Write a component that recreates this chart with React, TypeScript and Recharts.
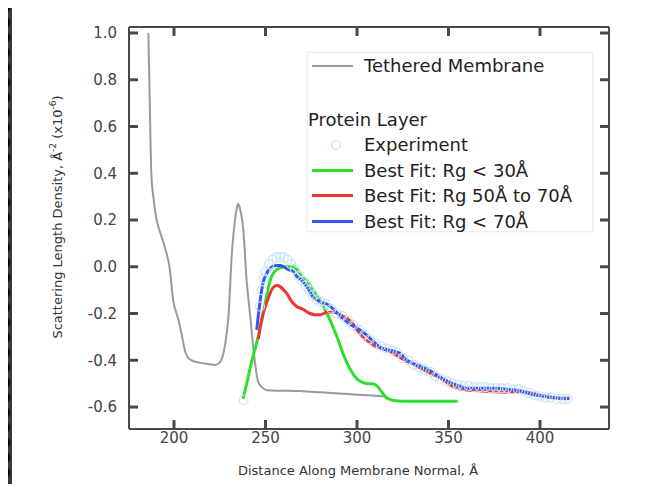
import React from "react";
import {
  ComposedChart,
  Line,
  XAxis,
  YAxis,
  ReferenceLine,
} from "recharts";

type Pt = { x: number; y: number };
const pts = (a: number[][]): Pt[] => a.map(([x, y]) => ({ x, y }));

const xTicks = [200, 250, 300, 350, 400];
const yTicks = [-0.6, -0.4, -0.2, 0.0, 0.2, 0.4, 0.6, 0.8, 1.0];

const membrane = pts([
  [186, 1.0], [186.5, 0.8], [187, 0.6], [187.6, 0.4], [189, 0.28], [190.5, 0.2],
  [192.3, 0.15], [194, 0.11], [195.5, 0.07], [197.5, 0.0], [199.6, -0.146],
  [202.2, -0.22], [204.2, -0.29], [206, -0.36], [207.7, -0.39], [210.4, -0.403],
  [214, -0.41], [218, -0.415], [222.4, -0.42], [224.2, -0.415], [226.5, -0.385],
  [228, -0.33], [229.7, -0.217], [231.7, 0.068], [233.3, 0.197], [234.3, 0.25],
  [235, 0.27], [236, 0.25], [237.9, 0.154], [239.7, -0.06], [241.5, -0.2],
  [243.3, -0.345], [245.9, -0.49], [248, -0.515], [250.8, -0.528], [256, -0.53],
  [262, -0.53], [270, -0.532], [280, -0.537], [290, -0.542], [300, -0.547],
  [306, -0.55], [316, -0.555],
]);

const experiment = pts([
  [238, -0.57], [247, -0.17], [248, -0.1], [249, -0.05], [250, -0.02], [252, 0.01],
  [254, 0.03], [256, 0.04], [258, 0.04], [260, 0.04], [262, 0.03], [264, 0.01],
  [266, -0.01], [268, -0.04], [270, -0.06], [272, -0.08], [274, -0.1], [276, -0.12],
  [278, -0.14], [280, -0.15], [283, -0.16], [286, -0.18], [289, -0.2], [292, -0.21],
  [295, -0.23], [298, -0.25], [301, -0.27], [304, -0.29], [307, -0.31], [310, -0.33],
  [313, -0.34], [316, -0.35], [319, -0.36], [322, -0.37], [325, -0.39], [328, -0.4],
  [331, -0.42], [334, -0.43], [337, -0.44], [340, -0.45], [343, -0.47], [346, -0.48],
  [349, -0.49], [352, -0.5], [355, -0.505], [358, -0.51], [361, -0.51], [364, -0.515],
  [367, -0.515], [370, -0.515], [373, -0.52], [376, -0.52], [379, -0.52], [382, -0.52],
  [385, -0.525], [388, -0.525], [391, -0.53], [394, -0.54], [397, -0.55], [400, -0.555],
  [403, -0.56], [406, -0.56], [409, -0.565], [412, -0.565], [415, -0.565],
]);

const fitRg30 = pts([
  [237.7, -0.565], [240, -0.49], [242, -0.42], [244, -0.36], [246, -0.3], [248, -0.23],
  [250, -0.15], [252.5, -0.06], [255, -0.02], [258, -0.005], [262, 0.0], [265, 0.0],
  [268, -0.02], [270, -0.04], [272.7, -0.06], [276, -0.1], [279.8, -0.145],
  [283.6, -0.2], [287, -0.26], [290, -0.32], [292.3, -0.37], [295, -0.42], [298, -0.46],
  [300, -0.48], [303, -0.495], [306, -0.5], [308.7, -0.5], [311, -0.51], [313, -0.53],
  [316, -0.56], [320, -0.572], [325, -0.575], [335, -0.575], [345, -0.575], [355, -0.575],
]);

const fitRg50to70 = pts([
  [246, -0.31], [248, -0.22], [250.8, -0.15], [254, -0.09], [256, -0.08], [258, -0.085],
  [260, -0.1], [261.7, -0.115], [264, -0.145], [267, -0.17], [270, -0.18], [274.3, -0.2],
  [277, -0.205], [280, -0.205], [283.6, -0.195], [287, -0.195], [290, -0.2], [292, -0.21],
  [294.5, -0.22], [297.8, -0.245], [300, -0.27], [303, -0.3], [306, -0.32], [310, -0.34],
  [314, -0.35], [318, -0.362], [322, -0.38], [326, -0.4], [330.6, -0.415], [335, -0.435],
  [340, -0.455], [345.4, -0.475], [350, -0.5], [354.6, -0.52], [360, -0.527], [367, -0.53],
  [374, -0.535], [380, -0.537], [386, -0.535], [390.7, -0.535], [395, -0.54], [400, -0.55],
  [403.8, -0.556], [408, -0.56], [412, -0.563], [416, -0.565],
]);

const fitRg70 = pts([
  [245.2, -0.27], [246.5, -0.18], [248.6, -0.07], [250.5, -0.03], [253.6, 0.0], [256, 0.005],
  [258, 0.005], [260, 0.0], [262, -0.01], [265, -0.02], [267, -0.04], [270, -0.06],
  [273, -0.09], [276, -0.13], [280, -0.15], [283.6, -0.16], [287, -0.18], [292, -0.22],
  [297, -0.25], [301.6, -0.27], [305, -0.29], [309, -0.32], [314, -0.35], [319.7, -0.36],
  [323.5, -0.37], [327.3, -0.4], [332.8, -0.42], [340, -0.445], [346, -0.475],
  [352.5, -0.5], [356, -0.51], [360, -0.52], [368, -0.52], [376.5, -0.52], [383, -0.525],
  [389, -0.53], [393, -0.54], [398, -0.55], [403, -0.555], [407, -0.56], [412, -0.562],
  [416, -0.562],
]);

const GRAY = "#9a9a9a";
const GREEN = "#2ee02e";
const RED = "#f03535";
const BLUE = "#3558ee";
const EXP = "#c4e2f8";
const AXIS = "#4a4a4a";
const FONT = "'DejaVu Sans', sans-serif";

const X_DOMAIN = [175.4, 437.7];
const Y_DOMAIN = [-0.694, 1.0257];
// tick length of 9px expressed in data units (plot is 480 x 402 px)
const DX = ((X_DOMAIN[1] - X_DOMAIN[0]) * 9) / 480;
const DY = ((Y_DOMAIN[1] - Y_DOMAIN[0]) * 9) / 402;

const legendLines = [
  { label: "Best Fit: Rg < 30Å", color: GREEN },
  { label: "Best Fit: Rg 50Å to 70Å", color: RED },
  { label: "Best Fit: Rg < 70Å", color: BLUE },
];

function LegendBox() {
  const row: React.CSSProperties = {
    display: "flex",
    alignItems: "center",
    height: 25.5,
    whiteSpace: "nowrap",
  };
  const swatch = (c: string, w = 3) => (
    <span style={{ display: "inline-block", width: 41, height: w, background: c, marginLeft: 4, marginRight: 11 }} />
  );
  return (
    <div
      style={{
        position: "absolute",
        left: 307,
        top: 52,
        width: 286,
        height: 180,
        boxSizing: "border-box",
        border: "1px solid #eee",
        boxShadow: "0 0 2px #eee",
        background: "#fff",
        fontFamily: FONT,
        fontSize: 18,
        color: "#222",
      }}
    >
      <div style={row}>{swatch(GRAY, 2)}Tethered Membrane</div>
      <div style={{ height: 28 }} />
      <div style={row}>Protein Layer</div>
      <div style={row}>
        <span style={{ display: "inline-block", width: 56, textAlign: "center" }}>
          <svg width={12} height={12}><circle cx={6} cy={6} r={4.5} fill="none" stroke={EXP} strokeWidth={1.2} /></svg>
        </span>
        Experiment
      </div>
      {legendLines.map((l) => (
        <div key={l.label} style={row}>{swatch(l.color)}{l.label}</div>
      ))}
    </div>
  );
}

const ExpDot = (p: any) => (
  <circle key={p.index} cx={p.cx} cy={p.cy} r={4.5} fill="none" stroke={EXP} strokeWidth={1.2} />
);

const YLabel = () => (
  <text transform="translate(62,217) rotate(-90)" textAnchor="middle" fontSize={13} fill="#333" fontFamily={FONT}>
    Scattering Length Density, Å<tspan dy={-6} fontSize={9}>-2</tspan>
    <tspan dy={6}> (x10</tspan>
    <tspan dy={-6} fontSize={9}>-6</tspan>
    <tspan dy={6}>)</tspan>
  </text>
);

const XLabel = () => (
  <text x={358} y={475} textAnchor="middle" fontSize={13} fill="#333" fontFamily={FONT}>
    Distance Along Membrane Normal, Å
  </text>
);

const strip = (s: React.CSSProperties): React.CSSProperties => ({
  position: "absolute",
  background: "#1c1c1c",
  backgroundImage: "radial-gradient(circle at 50% 50%, #050505 45%, #3b3b3b 62%)",
  backgroundSize: "15px 15px",
  ...s,
});

export default function App() {
  const frame = { stroke: AXIS, strokeWidth: 2 };
  const tickStyle = { fill: "#444", fontSize: 15, fontFamily: FONT };
  const tickMark = { stroke: AXIS, strokeWidth: 3, ifOverflow: "visible" as const, xAxisId: "b", yAxisId: "l" };
  return (
    <div style={{ position: "relative", width: 656, height: 492, margin: -8, background: "#fff", overflow: "hidden" }}>
      <div style={strip({ left: 0, top: 0, width: 12, height: 492, backgroundPosition: "-3px 0" })} />
      <div style={strip({ left: 652, top: 0, width: 4, height: 492 })} />
      <div style={{ position: "absolute", left: 0, top: 0, width: 656, height: 3, background: "#151515" }} />
      <div style={{ position: "absolute", left: 0, top: 0 }}>
        <ComposedChart width={656} height={492} margin={{ top: 26, right: 46, bottom: 13, left: 69 }}>
          <XAxis
            xAxisId="b"
            type="number"
            dataKey="x"
            domain={X_DOMAIN}
            ticks={xTicks}
            height={50}
            tick={tickStyle}
            tickSize={0}
            tickMargin={3}
            axisLine={frame}
            tickLine={false}
            allowDataOverflow
            label={XLabel}
          />
          <XAxis
            xAxisId="t"
            orientation="top"
            type="number"
            dataKey="x"
            domain={X_DOMAIN}
            ticks={xTicks}
            height={1}
            tick={false}
            axisLine={frame}
            tickLine={false}
            allowDataOverflow
          />
          <YAxis
            yAxisId="l"
            type="number"
            domain={Y_DOMAIN}
            ticks={yTicks}
            width={60}
            tick={tickStyle}
            tickFormatter={(v: number) => v.toFixed(1)}
            tickSize={0}
            tickMargin={12}
            axisLine={frame}
            tickLine={false}
            allowDataOverflow
            label={YLabel}
          />
          <YAxis
            yAxisId="r"
            orientation="right"
            type="number"
            domain={Y_DOMAIN}
            ticks={yTicks}
            width={1}
            tick={false}
            axisLine={frame}
            tickLine={false}
            allowDataOverflow
          />
          {/* invisible copy so the top/right frame axes get drawn */}
          <Line xAxisId="t" yAxisId="r" data={membrane} dataKey="y" stroke="none" dot={false} legendType="none" isAnimationActive={false} />
          {yTicks.map((t) => (
            <ReferenceLine key={`yl${t}`} {...tickMark} segment={[{ x: X_DOMAIN[0], y: t }, { x: X_DOMAIN[0] + DX, y: t }]} />
          ))}
          {yTicks.map((t) => (
            <ReferenceLine key={`yr${t}`} {...tickMark} segment={[{ x: X_DOMAIN[1] - DX, y: t }, { x: X_DOMAIN[1], y: t }]} />
          ))}
          {xTicks.map((t) => (
            <ReferenceLine key={`xb${t}`} {...tickMark} segment={[{ x: t, y: Y_DOMAIN[0] }, { x: t, y: Y_DOMAIN[0] + DY }]} />
          ))}
          {xTicks.map((t) => (
            <ReferenceLine key={`xt${t}`} {...tickMark} segment={[{ x: t, y: Y_DOMAIN[1] - DY }, { x: t, y: Y_DOMAIN[1] }]} />
          ))}
          <Line xAxisId="b" yAxisId="l" data={experiment} dataKey="y" stroke="none" dot={ExpDot} isAnimationActive={false} />
          <Line xAxisId="b" yAxisId="l" data={membrane} dataKey="y" type="monotone" stroke={GRAY} strokeWidth={2} dot={false} isAnimationActive={false} />
          <Line xAxisId="b" yAxisId="l" data={fitRg30} dataKey="y" type="monotone" stroke={GREEN} strokeWidth={3} dot={false} isAnimationActive={false} />
          <Line xAxisId="b" yAxisId="l" data={fitRg50to70} dataKey="y" type="monotone" stroke={RED} strokeWidth={3} dot={false} isAnimationActive={false} />
          <Line xAxisId="b" yAxisId="l" data={fitRg70} dataKey="y" type="monotone" stroke={BLUE} strokeWidth={3} dot={false} isAnimationActive={false} />
        </ComposedChart>
      </div>
      <LegendBox />
    </div>
  );
}
